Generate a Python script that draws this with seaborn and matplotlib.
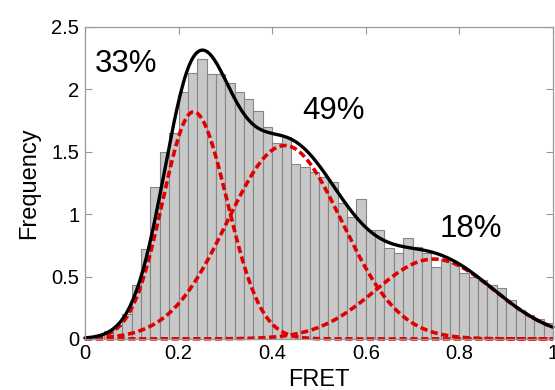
import numpy as np
import pandas as pd
import seaborn as sns
import matplotlib.pyplot as plt

# histogram: 50 bins of width 0.02 between 0 and 1
bin_width = 0.02
bar_heights = [0.02, 0.03, 0.06, 0.10, 0.20, 0.43, 0.72, 1.22, 1.50, 1.65,
               1.98, 2.13, 2.24, 2.12, 2.12, 2.05, 1.98, 1.92, 1.83, 1.70,
               1.57, 1.62, 1.40, 1.38, 1.34, 1.30, 1.26, 1.09, 0.98, 1.12,
               0.87, 0.87, 0.73, 0.69, 0.81, 0.74, 0.69, 0.58, 0.64, 0.61,
               0.53, 0.50, 0.47, 0.43, 0.41, 0.31, 0.23, 0.19, 0.16, 0.13]

# gaussian fit components (centre, amplitude, left / right width)
fit_centres = [0.232, 0.427, 0.745]
fit_amps = [1.82, 1.55, 0.64]
fit_sigma_left = [0.066, 0.123, 0.125]
fit_sigma_right = [0.072, 0.122, 0.130]
fit_labels = ["33%", "49%", "18%"]
label_pos = [(0.088, 2.2), (0.532, 1.83), (0.825, 0.88)]

sns.set_style("ticks")
plt.rcParams["font.family"] = ["Liberation Sans", "DejaVu Sans"]
plt.rcParams["text.color"] = "black"
plt.rcParams["axes.labelcolor"] = "black"

fig = plt.figure(figsize=(5.55, 3.9), dpi=100)
ax = fig.add_axes([0.153, 0.131, 0.8434, 0.7998])

centres = bin_width * (np.arange(len(bar_heights)) + 0.5)
df = pd.DataFrame({"fret": centres, "freq": bar_heights})
sns.histplot(data=df, x="fret", weights="freq", binwidth=bin_width,
             binrange=(0, 1), stat="count", color="#c8c8c8",
             edgecolor="#858585", linewidth=0.8, alpha=1, ax=ax)

x = np.linspace(0, 1, 301)
components = []
for c, a, sl, sr in zip(fit_centres, fit_amps, fit_sigma_left, fit_sigma_right):
    s = np.where(x < c, sl, sr)
    components.append(a * np.exp(-(x - c) ** 2 / (2 * s ** 2)))

for comp in components:
    sns.lineplot(x=x, y=comp, color="#e00000", lw=2.6, ax=ax,
                 linestyle=(0, (2, 1)), clip_on=False)
sns.lineplot(x=x, y=np.sum(components, axis=0), color="black", lw=2.4,
             ax=ax, clip_on=False)

for lab, (tx, ty) in zip(fit_labels, label_pos):
    ax.text(tx, ty, lab, fontsize=22.5, ha="center", va="center", color="black")

ax.set_xlim(0, 1)
ax.set_ylim(0, 2.5)
ax.set_xticks([0, 0.2, 0.4, 0.6, 0.8, 1])
ax.set_xticklabels(["0", "0.2", "0.4", "0.6", "0.8", "1"])
ax.set_yticks([0, 0.5, 1, 1.5, 2, 2.5])
ax.set_yticklabels(["0", "0.5", "1", "1.5", "2", "2.5"])
ax.set_xlabel("FRET", fontsize=17, labelpad=4)
ax.set_ylabel("Frequency", fontsize=17, labelpad=8)
ax.tick_params(direction="in", length=5, color="#999999", labelcolor="black",
               labelsize=14.5, top=True, right=True, pad=4)
for sp in ax.spines.values():
    sp.set_visible(True)
    sp.set_color("#999999")
    sp.set_linewidth(0.9)

fig.savefig("out.png", dpi=100)
